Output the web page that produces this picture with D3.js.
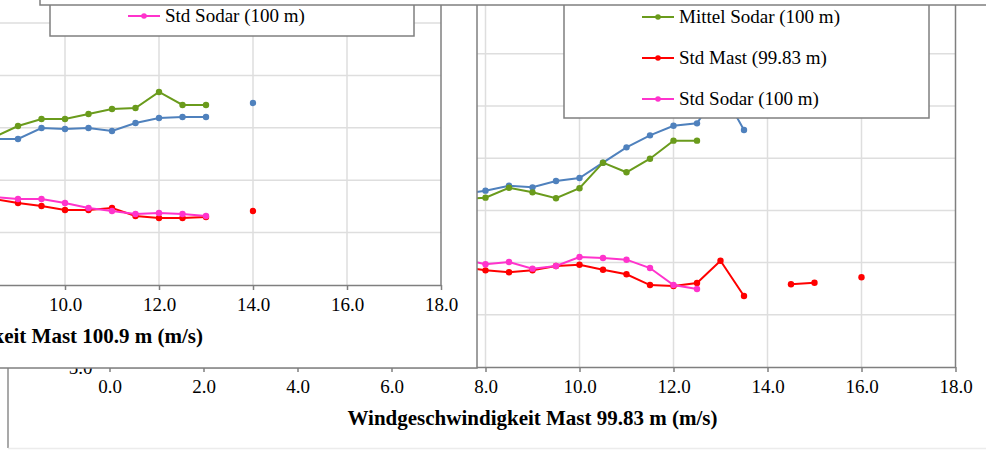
<!DOCTYPE html>
<html>
<head>
<meta charset="utf-8">
<script src="https://cdn.jsdelivr.net/npm/d3@7"></script>
<style>
  body { margin: 0; background: #fff; }
  svg { display: block; font-family: "Liberation Serif", "Times New Roman", serif; }
</style>
</head>
<body>
<div id="chart"></div>
<script>
// ---- back chart: Mast 99.83 m vs Sodar 100 m ----
const speedsB = [7.5, 8.0, 8.5, 9.0, 9.5, 10.0, 10.5, 11.0, 11.5, 12.0, 12.5, 13.0, 13.5, 14.0, 14.5, 15.0, 15.5, 16.0];
const mittelMastB  = [11.57, 11.89, 12.37, 12.21, 12.82, 13.10, 14.57, 16.04, 17.19, 18.11, 18.34, 21.72, 17.70, null, null, null, null, null];
const mittelSodarB = [11.09, 11.22, 12.17, 11.73, 11.16, 12.12, 14.57, 13.65, 14.95, 16.68, 16.68, null, null, null, null, null, null, null];
const stdMastB     = [4.58, 4.26, 4.07, 4.26, 4.67, 4.80, 4.32, 3.88, 2.85, 2.76, 3.05, 5.18, 1.80, null, 2.92, 3.07, null, 3.59];
const stdSodarB    = [5.34, 4.84, 5.06, 4.42, 4.67, 5.54, 5.44, 5.28, 4.48, 2.85, 2.47, null, null, null, null, null, null, null];
const legendB = ['Mittel Mast (99.83 m)', 'Mittel Sodar (100 m)', 'Std Mast (99.83 m)', 'Std Sodar (100 m)'];
const titleB = 'Windgeschwindigkeit Mast 99.83 m (m/s)';

// ---- front chart: Mast 100.9 m vs Sodar 100 m ----
const speedsA = [8.0, 8.5, 9.0, 9.5, 10.0, 10.5, 11.0, 11.5, 12.0, 12.5, 13.0, 13.5, 14.0];
const mittelMastA  = [8.74, 8.93, 8.93, 9.98, 9.89, 9.98, 9.69, 10.46, 10.94, 11.03, 11.03, null, 12.37];
const mittelSodarA = [8.84, 9.12, 10.17, 10.84, 10.84, 11.32, 11.79, 11.89, 13.42, 12.18, 12.18, null, null];
const stdMastA     = [3.50, 3.21, 2.82, 2.54, 2.16, 2.16, 2.35, 1.58, 1.39, 1.39, 1.49, null, 2.06];
const stdSodarA    = [3.59, 3.40, 3.21, 3.21, 2.83, 2.35, 2.06, 1.77, 1.87, 1.77, 1.58, null, null];
const legendA = ['Mittel Mast (100.9 m)', 'Mittel Sodar (100 m)', 'Std Mast (100.9 m)', 'Std Sodar (100 m)'];
const titleA = 'Windgeschwindigkeit Mast 100.9 m (m/s)';

// axis ticks
const xTicks = [0, 2, 4, 6, 8, 10, 12, 14, 16, 18];
const yTicksB = [-5, 0, 5, 10, 15, 20, 25, 30];
const yTicksA = [-5, 0, 5, 10, 15, 20, 25];

const colors = ['#4f81bd', '#6a9b1c', '#ff0000', '#ff33cc'];
const gridColor = '#dedede';
const frameColor = '#7f7f7f';
const fmt = d3.format('.1f');

const width = 986, height = 450;
const svg = d3.select('#chart').append('svg')
  .attr('width', width)
  .attr('height', height);

const defs = svg.append('defs');

function drawPlot(g, o) {
  const { x, y, speeds, series, yTicks, title, id } = o;
  const [left, right] = x.range();
  const [bottom, top] = y.range();

  defs.append('clipPath').attr('id', id)
    .append('rect')
    .attr('x', left).attr('y', top - 5)
    .attr('width', right - left + 5).attr('height', bottom - top + 5);

  // gridlines
  g.append('g').selectAll('line')
    .data(yTicks.filter(d => d !== y.domain()[0]))
    .join('line')
    .attr('x1', left).attr('x2', right)
    .attr('y1', d => y(d)).attr('y2', d => y(d))
    .attr('stroke', gridColor).attr('stroke-width', 1.5);
  g.append('g').selectAll('line')
    .data(xTicks.filter(d => d !== x.domain()[0] && d !== x.domain()[1]))
    .join('line')
    .attr('x1', d => x(d)).attr('x2', d => x(d))
    .attr('y1', top).attr('y2', bottom)
    .attr('stroke', gridColor).attr('stroke-width', 1.5);

  // plot border on the right
  g.append('line')
    .attr('x1', right).attr('x2', right)
    .attr('y1', top).attr('y2', bottom)
    .attr('stroke', frameColor).attr('stroke-width', 1.5);

  // axes
  const xAxis = g.append('g')
    .attr('transform', `translate(0,${bottom})`)
    .call(d3.axisBottom(x).tickValues(xTicks).tickFormat(fmt).tickSize(5).tickSizeOuter(0).tickPadding(8));
  const yAxis = g.append('g')
    .attr('transform', `translate(${left},0)`)
    .call(d3.axisLeft(y).tickValues(yTicks).tickFormat(fmt).tickSize(0).tickPadding(17));
  [xAxis, yAxis].forEach(a => {
    a.selectAll('path, line').attr('stroke', frameColor).attr('stroke-width', 1.5);
    a.selectAll('text').attr('font-size', 19).attr('fill', '#000')
      .attr('font-family', '"Liberation Serif", "Times New Roman", serif');
  });

  g.append('text')
    .attr('x', (left + right) / 2)
    .attr('y', bottom + 58)
    .attr('text-anchor', 'middle')
    .attr('font-size', 21)
    .attr('font-weight', 'bold')
    .text(title);

  // series
  const plot = g.append('g').attr('clip-path', `url(#${id})`);
  series.forEach((vals, i) => {
    const pts = speeds.map((s, k) => ({ s, v: vals[k] }));
    const line = d3.line()
      .defined(d => d.v != null)
      .x(d => x(d.s)).y(d => y(d.v));
    plot.append('path')
      .datum(pts)
      .attr('fill', 'none')
      .attr('stroke', colors[i])
      .attr('stroke-width', 2)
      .attr('d', line);
    plot.append('g').selectAll('circle')
      .data(pts.filter(d => d.v != null))
      .join('circle')
      .attr('cx', d => x(d.s)).attr('cy', d => y(d.v))
      .attr('r', 3.2)
      .attr('fill', colors[i]);
  });
}

function drawLegend(g, o) {
  const { box, names, lastY, step, lineX } = o;
  g.append('rect')
    .attr('x', box.x0).attr('y', box.y0)
    .attr('width', box.x1 - box.x0).attr('height', box.y1 - box.y0)
    .attr('fill', '#fff').attr('stroke', frameColor).attr('stroke-width', 1.5);
  names.forEach((name, i) => {
    const cy = lastY - (names.length - 1 - i) * step;
    if (cy < 0) return;
    g.append('line')
      .attr('x1', lineX).attr('x2', lineX + 32)
      .attr('y1', cy).attr('y2', cy)
      .attr('stroke', colors[i]).attr('stroke-width', 2);
    g.append('circle')
      .attr('cx', lineX + 16).attr('cy', cy).attr('r', 2.8)
      .attr('fill', colors[i]);
    g.append('text')
      .attr('x', lineX + 37).attr('y', cy)
      .attr('dy', '0.34em')
      .attr('font-size', 19)
      .text(name);
  });
}

// ---- back chart ----
const back = svg.append('g');
back.append('line')
  .attr('x1', 8).attr('x2', 8).attr('y1', 300).attr('y2', 448)
  .attr('stroke', '#8c8c8c').attr('stroke-width', 1.5);
back.append('line')
  .attr('x1', 8).attr('x2', width).attr('y1', 448.5).attr('y2', 448.5)
  .attr('stroke', '#ececec').attr('stroke-width', 1.5);

drawPlot(back, {
  id: 'clipB',
  x: d3.scaleLinear().domain([0, 18]).range([109.5, 955.5]),
  y: d3.scaleLinear().domain([-5, 30]).range([367, 1.6]),
  speeds: speedsB,
  series: [mittelMastB, mittelSodarB, stdMastB, stdSodarB],
  yTicks: yTicksB,
  title: titleB
});
drawLegend(back, {
  box: { x0: 564, x1: 929, y0: -60, y1: 118 },
  names: legendB, lastY: 99, step: 41, lineX: 642
});

// ---- front chart panel ----
defs.append('clipPath').attr('id', 'panelA')
  .append('rect').attr('x', -20).attr('y', -20).attr('width', 497).attr('height', 388);
const front = svg.append('g');
front.append('rect')
  .attr('x', -20).attr('y', -20).attr('width', 497).attr('height', 388)
  .attr('fill', '#fff').attr('stroke', frameColor).attr('stroke-width', 1.5);
const frontInner = front.append('g').attr('clip-path', 'url(#panelA)');
drawPlot(frontInner, {
  id: 'clipA',
  x: d3.scaleLinear().domain([0, 18]).range([-405, 441]),
  y: d3.scaleLinear().domain([-5, 25]).range([285, -29.4]),
  speeds: speedsA,
  series: [mittelMastA, mittelSodarA, stdMastA, stdSodarA],
  yTicks: yTicksA,
  title: titleA
});
drawLegend(frontInner, {
  box: { x0: 50, x1: 414, y0: -150, y1: 36 },
  names: legendA, lastY: 16, step: 41, lineX: 128
});

// ---- panel lying on top ----
svg.append('rect')
  .attr('x', 40).attr('y', -20).attr('width', 1000).attr('height', 25)
  .attr('fill', '#fff').attr('stroke', frameColor).attr('stroke-width', 1.5);
</script>
</body>
</html>
